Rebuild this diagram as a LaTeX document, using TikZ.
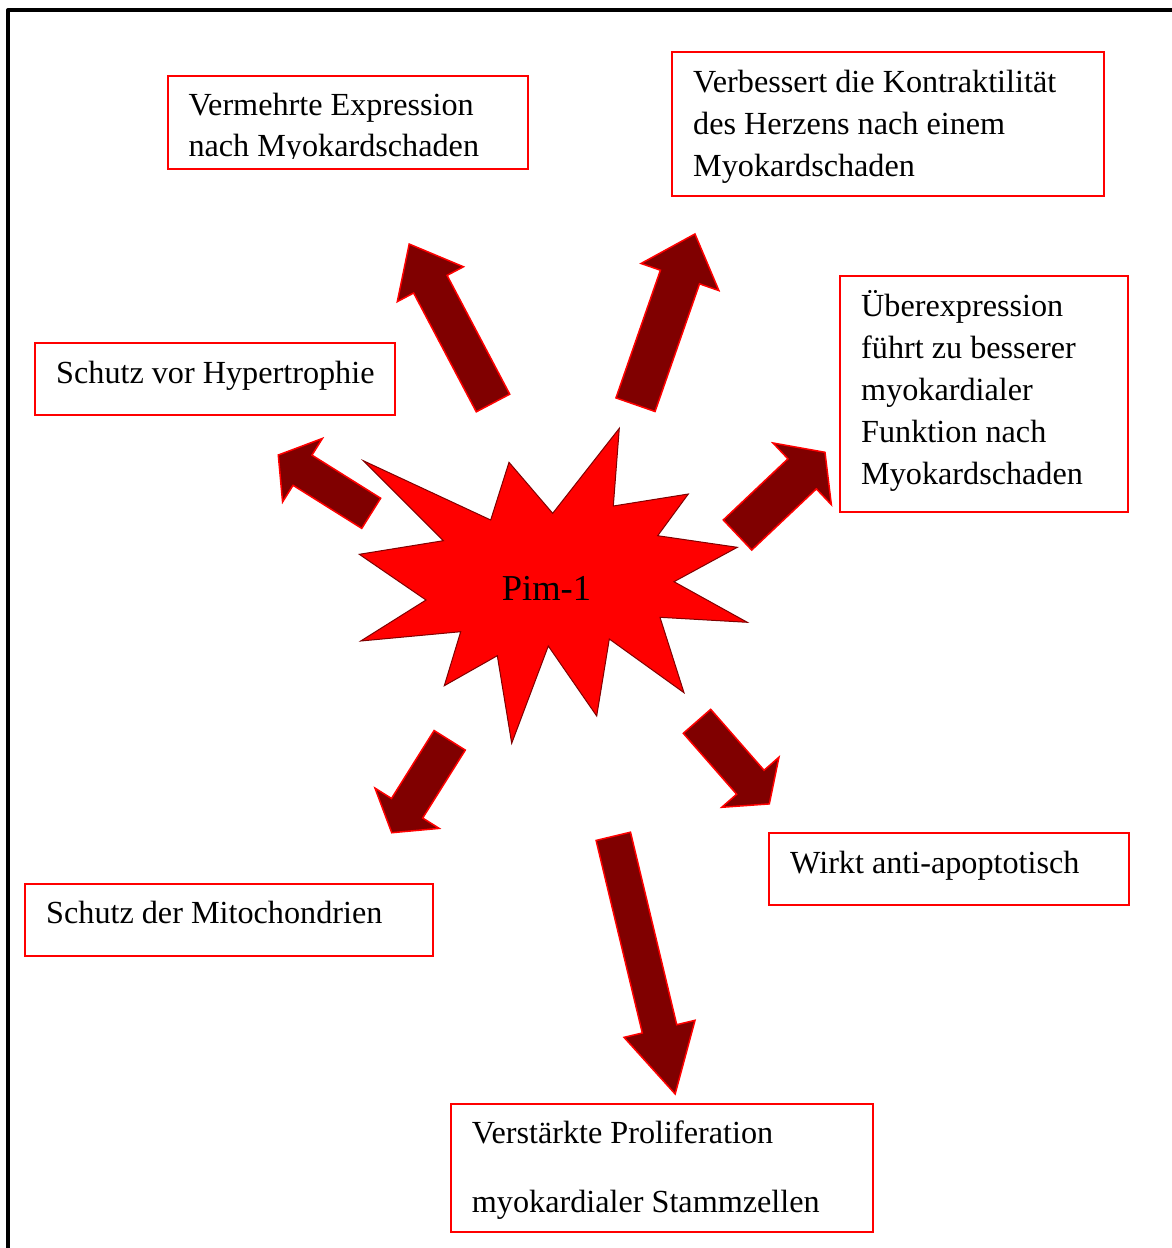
\documentclass[tikz,border=0pt]{standalone}
\usepackage{fontspec}
\setmainfont{Liberation Serif}
\definecolor{arrowfill}{HTML}{800000}
\definecolor{starline}{HTML}{800000}
\newcommand{\blkarrow}[7]{%
  \begin{scope}[shift={(#1,-#2)}, rotate=#3]
    \draw[blockarrow] (0,-#5) -- ({#4-#7},-#5) -- ({#4-#7},-#6) -- (#4,0)
      -- ({#4-#7},#6) -- ({#4-#7},#5) -- (0,#5) -- cycle;
  \end{scope}}
\begin{document}
\begin{tikzpicture}[x=1pt,y=1pt,
  box/.style={draw=red, line width=1.8pt, inner sep=0pt, fill=none},
  txt/.style={anchor=north west, inner sep=0pt, align=left, text=black},
  blockarrow/.style={fill=arrowfill, draw=red, line width=1.5pt, line join=miter},
  starshape/.style={fill=red, draw=starline, line width=1pt, line join=miter}]
\useasboundingbox (0,0) rectangle (1172,-1248);
\clip (0,0) rectangle (1172,-1248);
\fill[white] (0,0) rectangle (1172,-1248);
% frame
\draw[line width=4pt, line join=round] (8,-1300) -- (8,-10.3) -- (1200,-10.3);

% boxes
\node[box, minimum width=360pt, minimum height=93.3pt] (b1) at (348.3,-122.65) {};
\node[box, minimum width=432pt, minimum height=144pt] (b2) at (888,-124) {};
\node[box, minimum width=288pt, minimum height=236pt] (b3) at (984,-394) {};
\node[box, minimum width=360pt, minimum height=72pt] (b4) at (215,-379) {};
\node[box, minimum width=408pt, minimum height=72pt] (b5) at (229,-920) {};
\node[box, minimum width=360pt, minimum height=72pt] (b6) at (949,-869) {};
\node[box, minimum width=421.7pt, minimum height=127.7pt] (b7) at (661.85,-1167.85) {};

% texts
\begin{scope}
\clip (160,-70) rectangle (540,-158);
\node[txt, font=\fontsize{32.2}{40.5}\selectfont] (t1) at (188.3,-87.35)
  {\strut Vermehrte Expression\\\strut nach Myokardschaden};
\end{scope}
\node[txt, font=\fontsize{32.2}{42}\selectfont] (t2) at (693,-62.6)
  {\strut Verbessert die Kontraktilität\\\strut des Herzens nach einem\\\strut Myokardschaden};
\node[txt, font=\fontsize{32.2}{42}\selectfont] (t3) at (861,-286.6)
  {\strut Überexpression\\\strut führt zu besserer\\\strut myokardialer\\\strut Funktion nach\\\strut Myokardschaden};
\node[txt, font=\fontsize{32.2}{42}\selectfont] (t4) at (56,-353.6)
  {\strut Schutz vor Hypertrophie};
\node[txt, font=\fontsize{32.2}{42}\selectfont] (t5) at (46,-893.6)
  {\strut Schutz der Mitochondrien};
\node[txt, font=\fontsize{32.2}{42}\selectfont] (t6) at (790,-843.6)
  {\strut Wirkt anti-apoptotisch};
\node[txt, font=\fontsize{32.2}{69}\selectfont] (t7) at (471.7,-1094.7)
  {\strut Verstärkte Proliferation\\\strut myokardialer Stammzellen};

% star
\draw[starshape] (363.3,-460.7) -- (490.7,-520) -- (509,-462.3) -- (552.7,-513.3)
  -- (619.3,-428.3) -- (613.3,-506) -- (688.3,-494) -- (657.7,-535.7)
  -- (737.3,-547.3) -- (674,-581.7) -- (747.3,-622.3) -- (660,-617.3)
  -- (684,-692.7) -- (609.3,-639) -- (596.7,-716) -- (548.3,-646)
  -- (511.7,-743.3) -- (497.3,-655.7) -- (444.3,-685.7) -- (460.7,-631.7)
  -- (360.7,-641) -- (426,-600) -- (359.3,-554.3) -- (443.3,-540.7) -- cycle;
\node[anchor=base west, inner sep=0pt, font=\fontsize{36.5}{44}\selectfont] (pim) at (501.7,-600) {Pim-1};

% block arrows
\blkarrow{493}{403}{117.8}{179.7}{18.9}{37.4}{45.4}
\blkarrow{635.5}{404.7}{70.8}{180.8}{20.7}{41.2}{45.6}
\blkarrow{371.2}{513.3}{147.9}{109.7}{17.8}{37.5}{28.6}
\blkarrow{737.5}{535}{43.4}{120.4}{20.7}{42.5}{31.4}
\blkarrow{449.7}{740.3}{-122.1}{109.1}{18.4}{37.9}{28.9}
\blkarrow{697}{721.3}{-48.8}{109.8}{18.2}{38}{28.8}
\blkarrow{613.3}{836.3}{-76.5}{265}{17.7}{36.5}{67}
\end{tikzpicture}
\end{document}
